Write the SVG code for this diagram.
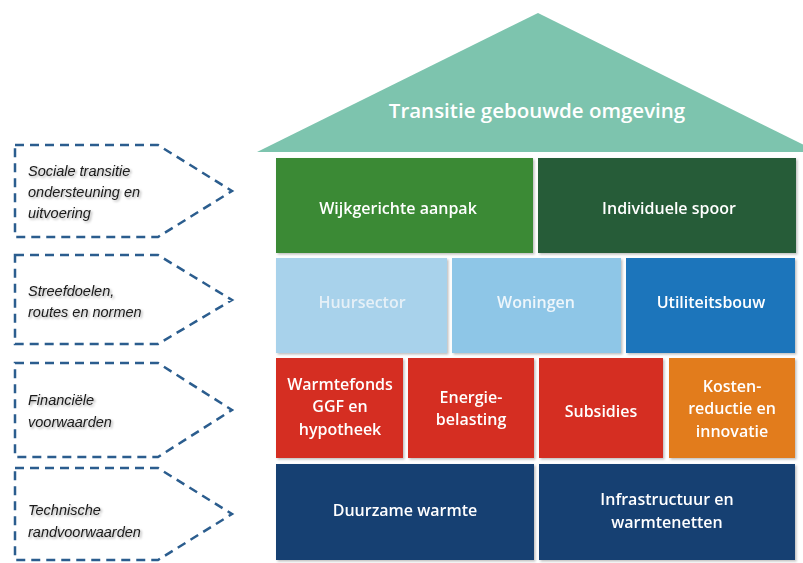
<svg xmlns="http://www.w3.org/2000/svg" width="803" height="563" viewBox="0 0 803 563">
<defs>
<filter id="bs" x="-5%" y="-5%" width="115%" height="115%">
<feDropShadow dx="1.5" dy="1.5" stdDeviation="1.2" flood-color="#000" flood-opacity="0.25"/>
</filter>
<filter id="ts" x="-10%" y="-30%" width="125%" height="170%">
<feDropShadow dx="1.5" dy="1.5" stdDeviation="1.2" flood-color="#000" flood-opacity="0.35"/>
</filter>
</defs>
<style>
.lbl{font-family:"Open Sans","Noto Sans",sans-serif;font-weight:600;font-size:16px;fill:#fff;text-anchor:middle}
.side{font-family:"Liberation Sans",Arial,sans-serif;font-style:italic;font-size:14.5px;fill:#1a1a1a;filter:url(#ts)}
.dash{fill:none;stroke:#2b5d8e;stroke-width:2.5;stroke-dasharray:9 6}
.box{filter:url(#bs)}
</style>
<rect width="803" height="563" fill="#fff"/>

<g id="connectors">
<path class="dash" d="M15,145 H158 L232,191 L158,237 H15 Z"/>
<path class="dash" d="M15,255 H158 L232,300 L158,344 H15 Z"/>
<path class="dash" d="M15,363 H158 L232,410 L158,457 H15 Z"/>
<path class="dash" d="M15,468 H158 L232,514 L158,560 H15 Z"/>
</g>

<g id="side-sociale"><text class="side" x="28" y="176">Sociale transitie</text><text class="side" x="28" y="197">ondersteuning en</text><text class="side" x="28" y="218">uitvoering</text></g>
<g id="side-streefdoelen"><text class="side" x="28" y="296">Streefdoelen,</text><text class="side" x="28" y="317">routes en normen</text></g>
<g id="side-financieel"><text class="side" x="28" y="405">Financiële</text><text class="side" x="28" y="427">voorwaarden</text></g>
<g id="side-technisch"><text class="side" x="28" y="515">Technische</text><text class="side" x="28" y="537">randvoorwaarden</text></g>

<g id="roof"><polygon points="257,152 538,13 818,152" fill="#7dc4ae"/><text class="lbl" x="537" y="118" style="font-size:20.5px">Transitie gebouwde omgeving</text></g>

<g id="wijkgerichte" class="box"><rect x="276" y="158" width="257" height="95" fill="#3b8a34"/><text class="lbl" x="398" y="214">Wijkgerichte aanpak</text></g>
<g id="individuele" class="box"><rect x="538" y="158" width="258" height="95" fill="#265b37"/><text class="lbl" x="669" y="214">Individuele spoor</text></g>

<g id="huursector" class="box"><rect x="276" y="258" width="171" height="95" fill="#a8d2eb"/><text class="lbl" x="362" y="308" style="fill:#e6f0f7">Huursector</text></g>
<g id="woningen" class="box"><rect x="452" y="258" width="169" height="95" fill="#8ec6e7"/><text class="lbl" x="536" y="308" style="fill:#eef6fb">Woningen</text></g>
<g id="utiliteitsbouw" class="box"><rect x="626" y="258" width="169" height="95" fill="#1b74bb"/><text class="lbl" x="711" y="308">Utiliteitsbouw</text></g>

<g id="warmtefonds" class="box"><rect x="276" y="358" width="127" height="100" fill="#d52d20"/><text class="lbl" x="340" y="390">Warmtefonds</text><text class="lbl" x="340" y="412">GGF en</text><text class="lbl" x="340" y="435">hypotheek</text></g>
<g id="energiebelasting" class="box"><rect x="408" y="358" width="126" height="100" fill="#d52d20"/><text class="lbl" x="471" y="403">Energie-</text><text class="lbl" x="471" y="425">belasting</text></g>
<g id="subsidies" class="box"><rect x="539" y="358" width="124" height="100" fill="#d52d20"/><text class="lbl" x="601" y="417">Subsidies</text></g>
<g id="kostenreductie" class="box"><rect x="669" y="358" width="126" height="100" fill="#e27b1b"/><text class="lbl" x="732" y="392">Kosten-</text><text class="lbl" x="732" y="414">reductie en</text><text class="lbl" x="732" y="437">innovatie</text></g>

<g id="duurzame" class="box"><rect x="276" y="464" width="258" height="96" fill="#163f72"/><text class="lbl" x="405" y="516">Duurzame warmte</text></g>
<g id="infrastructuur" class="box"><rect x="539" y="464" width="256" height="96" fill="#163f72"/><text class="lbl" x="667" y="505">Infrastructuur en</text><text class="lbl" x="667" y="528">warmtenetten</text></g>
</svg>
